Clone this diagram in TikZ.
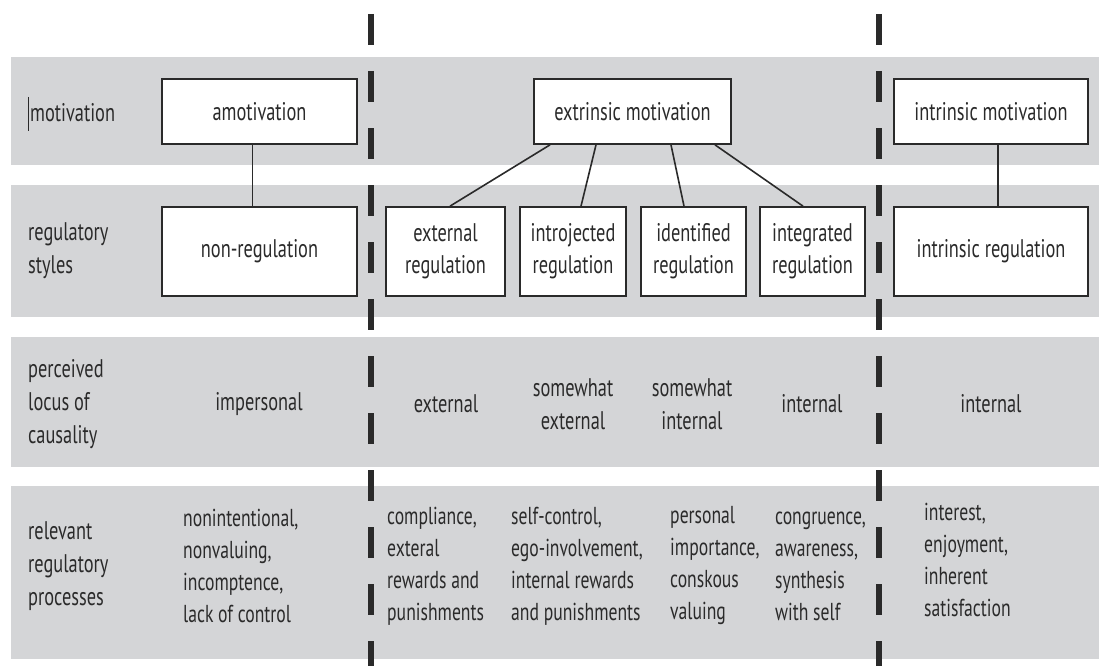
\documentclass[tikz,border=0pt]{standalone}
\usepackage{fontspec}
\setmainfont{PT Sans}[FakeStretch=0.72]
\definecolor{band}{HTML}{D4D5D7}
\definecolor{ink}{HTML}{2A2A2A}
\tikzset{
  bandrect/.style={fill=band, draw=none},
  bx/.style={draw=ink, line width=1.7pt, fill=white, inner sep=0pt, align=center, text=ink,
    font=\fontsize{25.5}{32}\selectfont},
  topbx/.style={bx, minimum height=65pt},
  regbx/.style={bx, minimum height=89pt},
  lbl/.style={anchor=west, align=left, inner sep=0pt, text=ink, font=\fontsize{25.5}{33}\selectfont},
  ctr/.style={anchor=center, align=center, inner sep=0pt, text=ink, font=\fontsize{25.5}{33}\selectfont},
  proc/.style={anchor=west, align=left, inner sep=0pt, text=ink, font=\fontsize{24.5}{32}\selectfont},
  conn/.style={draw=ink, line width=1.6pt},
  divider/.style={draw=ink, line width=6pt, dash pattern=on 31pt off 26pt}
}
\begin{document}
\begin{tikzpicture}[x=1pt,y=-1pt]
\useasboundingbox (0,0) rectangle (1099,666);
% bands
\fill[bandrect] (11,57) rectangle (1099,165);
\fill[bandrect] (11,185) rectangle (1099,317);
\fill[bandrect] (11,337) rectangle (1099,467);
\fill[bandrect] (11,486) rectangle (1099,659);
% dividers
\coordinate (d1top) at (371,14);
\coordinate (d1bot) at (371,666);
\coordinate (d2top) at (879,14);
\coordinate (d2bot) at (879,666);
\draw[divider] (d1top) -- (d1bot);
\draw[divider] (d2top) -- (d2bot);
% cursor mark
\draw[ink, line width=0.7pt] (28,97) -- (28,131);
% row labels
\node[lbl] (l1) at (30,113) {motivation};
\node[lbl] (l2) at (28,251) {regulatory\\styles};
\node[lbl] (l3) at (28,404) {perceived\\locus of\\causality};
\node[lbl] (l4) at (28,566) {relevant\\regulatory\\processes};
% boxes
\node[topbx, minimum width=195pt] (amot) at (259.5,111.5) {amotivation};
\node[regbx, minimum width=195pt] (nonreg) at (259.5,251.5) {non-regulation};
\node[topbx, minimum width=197pt] (extr) at (632.5,111.5) {extrinsic motivation};
\node[regbx, minimum width=119pt] (ext) at (445.5,251.5) {external\\regulation};
\node[regbx, minimum width=106pt] (intro) at (573,251.5) {introjected\\regulation};
\node[regbx, minimum width=105pt] (ident) at (693.5,251.5) {identified\\regulation};
\node[regbx, minimum width=105pt] (integ) at (812.5,251.5) {integrated\\regulation};
\node[topbx, minimum width=194pt] (intrm) at (991,111.5) {intrinsic motivation};
\node[regbx, minimum width=194pt] (intrr) at (991,251.5) {intrinsic regulation};
% connectors
\draw[conn] ([xshift=-7pt]amot.south) -- ([xshift=-7pt]nonreg.north);
\draw[conn] ([xshift=7pt]intrm.south) -- ([xshift=7pt]intrr.north);
\draw[conn] ([xshift=-82.5pt]extr.south) -- ([xshift=4.5pt]ext.north);
\draw[conn] ([xshift=-36.5pt]extr.south) -- ([xshift=8pt]intro.north);
\draw[conn] ([xshift=38.5pt]extr.south) -- ([xshift=-9.5pt]ident.north);
\draw[conn] ([xshift=82.5pt]extr.south) -- ([xshift=-9.5pt]integ.north);
% locus of causality
\node[ctr] (c1) at (259,404) {impersonal};
\node[ctr] (c2) at (446,404) {external};
\node[ctr] (c3) at (573,404) {somewhat\\external};
\node[ctr] (c4) at (692,404) {somewhat\\internal};
\node[ctr] (c5) at (812,404) {internal};
\node[ctr] (c6) at (991,404) {internal};
% processes
\node[proc] (p1) at (183,566) {nonintentional,\\nonvaluing,\\incomptence,\\lack of control};
\node[proc] (p2) at (387,566) {compliance,\\exteral\\rewards and\\punishments};
\node[proc] (p3) at (511,566) {self-control,\\ego-involvement,\\internal rewards\\and punishments};
\node[proc] (p4) at (670,566) {personal\\importance,\\conskous\\valuing};
\node[proc] (p5) at (775,566) {congruence,\\awareness,\\synthesis\\with self};
\node[proc] (p6) at (924,560) {interest,\\enjoyment,\\inherent\\satisfaction};
\end{tikzpicture}
\end{document}
